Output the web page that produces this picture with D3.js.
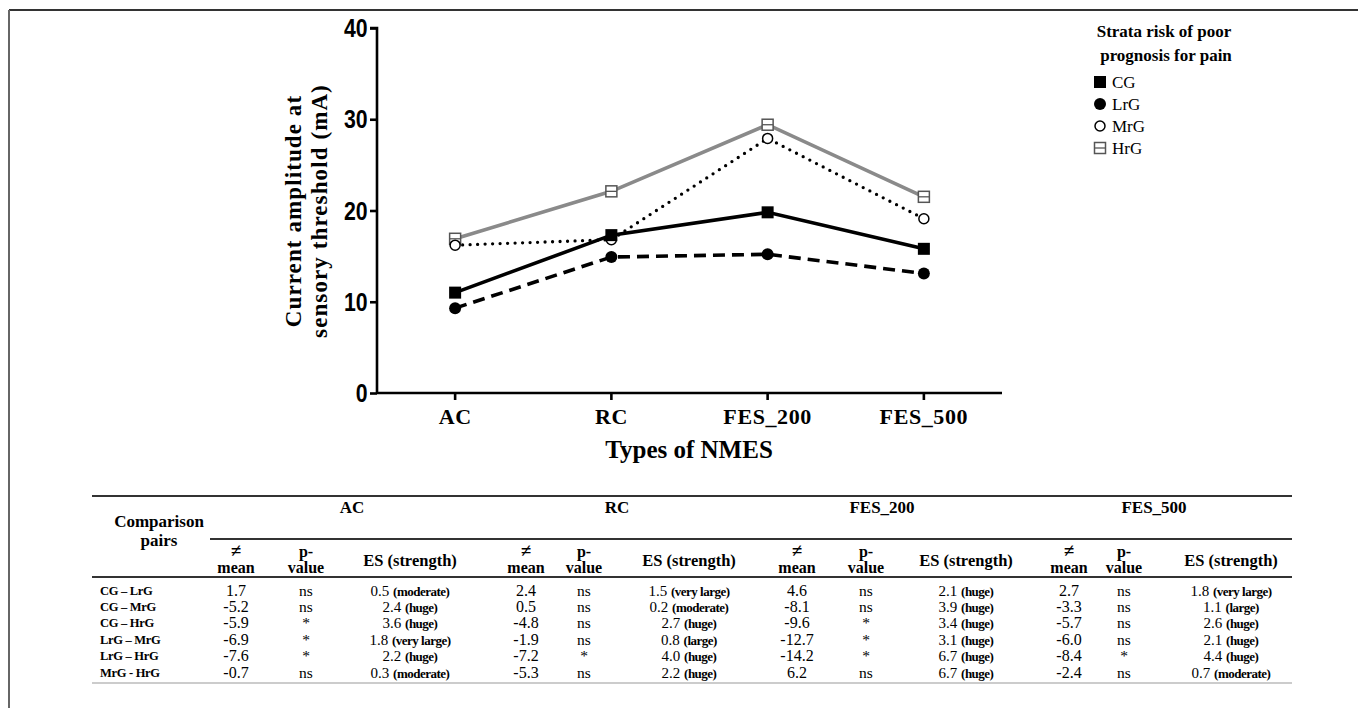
<!DOCTYPE html>
<html><head><meta charset="utf-8">
<script src="https://cdn.jsdelivr.net/npm/d3@7"></script>
<style>body{margin:0;background:#fff}svg{display:block}</style>
</head><body>
<svg id="c" width="1358" height="708"></svg>
<script>
// ---- chart data ----
const categories = ["AC", "RC", "FES_200", "FES_500"];
const seriesNames = ["CG", "LrG", "MrG", "HrG"];
const cgValues  = [11.0, 17.3, 19.8, 15.8];
const lrgValues = [9.3, 14.9, 15.2, 13.1];
const mrgValues = [16.2, 16.8, 27.9, 19.1];
const hrgValues = [16.9, 22.1, 29.4, 21.5];
const yTicks = [0, 10, 20, 30, 40];

// ---- table data ----
const pairs = ["CG – LrG", "CG – MrG", "CG – HrG", "LrG – MrG", "LrG – HrG", "MrG - HrG"];
const meanAC = ["1.7", "-5.2", "-5.9", "-6.9", "-7.6", "-0.7"];
const pAC = ["ns", "ns", "*", "*", "*", "ns"];
const esAC = ["0.5", "2.4", "3.6", "1.8", "2.2", "0.3"];
const strAC = ["moderate", "huge", "huge", "very large", "huge", "moderate"];
const meanRC = ["2.4", "0.5", "-4.8", "-1.9", "-7.2", "-5.3"];
const pRC = ["ns", "ns", "ns", "ns", "*", "ns"];
const esRC = ["1.5", "0.2", "2.7", "0.8", "4.0", "2.2"];
const strRC = ["very large", "moderate", "huge", "large", "huge", "huge"];
const meanF200 = ["4.6", "-8.1", "-9.6", "-12.7", "-14.2", "6.2"];
const pF200 = ["ns", "ns", "*", "*", "*", "ns"];
const esF200 = ["2.1", "3.9", "3.4", "3.1", "6.7", "6.7"];
const strF200 = ["huge", "huge", "huge", "huge", "huge", "huge"];
const meanF500 = ["2.7", "-3.3", "-5.7", "-6.0", "-8.4", "-2.4"];
const pF500 = ["ns", "ns", "ns", "ns", "*", "ns"];
const esF500 = ["1.8", "1.1", "2.6", "2.1", "4.4", "0.7"];
const strF500 = ["very large", "large", "huge", "huge", "huge", "moderate"];

const svg = d3.select("#c");
const serif = "'Liberation Serif','Times New Roman',serif";
const sans = "'Liberation Sans',Arial,sans-serif";

// frame
svg.append("line").attr("x1", 9).attr("x2", 1358).attr("y1", 10).attr("y2", 10).attr("stroke", "#333").attr("stroke-width", 2);
svg.append("line").attr("x1", 9).attr("x2", 9).attr("y1", 10).attr("y2", 708).attr("stroke", "#666").attr("stroke-width", 2);

// scales
const x = d3.scaleBand().domain(categories).range([377, 1002]).padding(0);
const y = d3.scaleLinear().domain([0, 40]).range([393, 28]);

// axes
const yAxis = svg.append("g").attr("transform", "translate(377,0)")
  .call(d3.axisLeft(y).tickValues(yTicks).tickSize(7).tickPadding(3));
yAxis.select(".domain").attr("stroke", "#000").attr("stroke-width", 2.6).attr("d", "M0,393V28H-7");
yAxis.selectAll(".tick line").attr("stroke", "#000").attr("stroke-width", 2.6);
yAxis.selectAll(".tick text").attr("font-family", sans).attr("font-weight", "bold").attr("font-size", 25)
  .attr("fill", "#000").attr("x", -9.5 / 0.85).attr("dy", "0.34em").attr("transform", "scale(0.85,1)");

const xAxis = svg.append("g").attr("transform", "translate(0,393)")
  .call(d3.axisBottom(x).tickSize(7).tickPadding(8));
xAxis.select(".domain").attr("stroke", "#000").attr("stroke-width", 2.6).attr("d", "M377,0H1002");
xAxis.selectAll(".tick line").attr("stroke", "#000").attr("stroke-width", 2.6);
xAxis.selectAll(".tick text").attr("font-family", serif).attr("font-weight", "bold").attr("font-size", 22)
  .attr("letter-spacing", 0.6).attr("fill", "#000");

// axis titles
svg.append("text").attr("x", 689).attr("y", 458).attr("text-anchor", "middle")
  .attr("font-family", serif).attr("font-weight", "bold").attr("font-size", 25).text("Types of NMES");
const yt = svg.append("text").attr("transform", "translate(0,211) rotate(-90)").attr("text-anchor", "middle")
  .attr("font-family", serif).attr("font-weight", "bold").attr("font-size", 23).attr("letter-spacing", 1.1);
yt.append("tspan").attr("x", 0).attr("y", 301).text("Current amplitude at");
yt.append("tspan").attr("x", 0).attr("y", 327).text("sensory threshold (mA)");

// series
const series = [
  {name: "CG", values: cgValues, color: "#000", dash: null, cap: "butt", marker: "fsquare"},
  {name: "LrG", values: lrgValues, color: "#000", dash: "12,7", cap: "butt", marker: "fcircle"},
  {name: "MrG", values: mrgValues, color: "#000", dash: "0,7.5", cap: "round", marker: "ocircle"},
  {name: "HrG", values: hrgValues, color: "#8a8a8a", dash: null, cap: "butt", marker: "osquare"}
];
const line = d3.line().x((d, i) => x(categories[i]) + x.bandwidth() / 2).y(d => y(d));

function drawMarker(g, type, cx, cy) {
  if (type === "fsquare") {
    g.append("rect").attr("x", cx - 6).attr("y", cy - 6).attr("width", 12).attr("height", 12).attr("fill", "#000");
  } else if (type === "fcircle") {
    g.append("circle").attr("cx", cx).attr("cy", cy).attr("r", 6).attr("fill", "#000");
  } else if (type === "ocircle") {
    g.append("circle").attr("cx", cx).attr("cy", cy).attr("r", 5).attr("fill", "#fff").attr("stroke", "#000").attr("stroke-width", 1.5);
  } else {
    g.append("rect").attr("x", cx - 5.5).attr("y", cy - 5.5).attr("width", 11).attr("height", 11).attr("fill", "#fff").attr("stroke", "#555").attr("stroke-width", 1.5);
    g.append("line").attr("x1", cx - 5.5).attr("x2", cx + 5.5).attr("y1", cy).attr("y2", cy).attr("stroke", "#555").attr("stroke-width", 1.3);
  }
}

[3, 2, 1, 0].forEach(k => {
  const s = series[k];
  svg.append("path").datum(s.values).attr("d", line).attr("fill", "none")
    .attr("stroke", s.color).attr("stroke-width", s.cap === "round" ? 3.3 : 3.6)
    .attr("stroke-dasharray", s.dash).attr("stroke-linecap", s.cap);
});
[3, 2, 1, 0].forEach(k => {
  const s = series[k];
  const g = svg.append("g");
  s.values.forEach((v, i) => drawMarker(g, s.marker, x(categories[i]) + x.bandwidth() / 2, y(v)));
});

// legend
const lg = svg.append("g");
lg.append("text").attr("x", 1164).attr("y", 37).attr("text-anchor", "middle").attr("font-family", serif)
  .attr("font-weight", "bold").attr("font-size", 17).text("Strata risk of poor");
lg.append("text").attr("x", 1166).attr("y", 61).attr("text-anchor", "middle").attr("font-family", serif)
  .attr("font-weight", "bold").attr("font-size", 17).text("prognosis for pain");
series.forEach((s, i) => {
  const cy = 82 + i * 22;
  drawMarker(lg, s.marker, 1100, cy);
  lg.append("text").attr("x", 1112).attr("y", cy + 6).attr("font-family", serif).attr("font-size", 17).text(s.name);
});

// ---- table ----
const T = svg.append("g").attr("font-family", serif).attr("fill", "#000");
const tl = (x1, x2, yy, w, c) => T.append("line").attr("x1", x1).attr("x2", x2).attr("y1", yy).attr("y2", yy).attr("stroke", c).attr("stroke-width", w);
tl(92, 1292, 496, 2, "#333");
tl(210, 1292, 539, 2, "#333");
tl(92, 1292, 577, 2, "#333");
tl(92, 1292, 683, 1, "#999");

T.append("text").attr("x", 159).attr("y", 527).attr("text-anchor", "middle").attr("font-weight", "bold").attr("font-size", 17).text("Comparison");
T.append("text").attr("x", 159).attr("y", 546).attr("text-anchor", "middle").attr("font-weight", "bold").attr("font-size", 17).text("pairs");

const groups = [
  {name: "AC", cx: 352, cols: [236, 306, 410], mean: meanAC, p: pAC, es: esAC, str: strAC},
  {name: "RC", cx: 617, cols: [526, 584, 689], mean: meanRC, p: pRC, es: esRC, str: strRC},
  {name: "FES_200", cx: 882, cols: [797, 866, 966], mean: meanF200, p: pF200, es: esF200, str: strF200},
  {name: "FES_500", cx: 1154, cols: [1069, 1124, 1231], mean: meanF500, p: pF500, es: esF500, str: strF500}
];
const rowY = [596, 612, 628, 645, 661, 678];

pairs.forEach((p, r) => {
  T.append("text").attr("x", 100).attr("y", rowY[r] - 1).attr("font-weight", "bold").attr("font-size", 12.5).attr("letter-spacing", -0.3).text(p);
});

groups.forEach(g => {
  T.append("text").attr("x", g.cx).attr("y", 513).attr("text-anchor", "middle").attr("font-weight", "bold").attr("font-size", 17).text(g.name);
  T.append("text").attr("x", g.cols[0]).attr("y", 557).attr("text-anchor", "middle").attr("font-weight", "bold").attr("font-size", 19).text("≠");
  T.append("text").attr("x", g.cols[0]).attr("y", 573).attr("text-anchor", "middle").attr("font-weight", "bold").attr("font-size", 16).text("mean");
  T.append("text").attr("x", g.cols[1]).attr("y", 557).attr("text-anchor", "middle").attr("font-weight", "bold").attr("font-size", 16).text("p-");
  T.append("text").attr("x", g.cols[1]).attr("y", 573).attr("text-anchor", "middle").attr("font-weight", "bold").attr("font-size", 16).text("value");
  T.append("text").attr("x", g.cols[2]).attr("y", 566).attr("text-anchor", "middle").attr("font-weight", "bold").attr("font-size", 16.5).text("ES (strength)");
  rowY.forEach((yy, r) => {
    T.append("text").attr("x", g.cols[0]).attr("y", yy).attr("text-anchor", "middle").attr("font-size", 16).text(g.mean[r]);
    T.append("text").attr("x", g.cols[1]).attr("y", yy).attr("text-anchor", "middle").attr("font-size", 15.5).text(g.p[r]);
    const t = T.append("text").attr("x", g.cols[2]).attr("y", yy).attr("text-anchor", "middle").attr("font-size", 15);
    t.append("tspan").text(g.es[r] + " ");
    t.append("tspan").attr("font-weight", "bold").attr("font-size", 13).attr("letter-spacing", -0.5).text("(" + g.str[r] + ")");
  });
});
</script>
</body></html>
